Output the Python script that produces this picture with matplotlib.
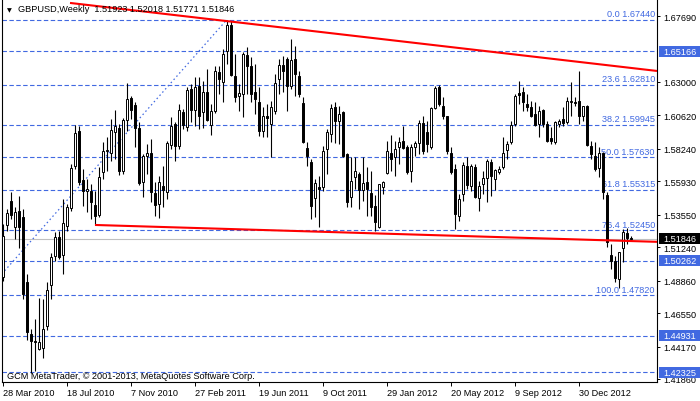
import matplotlib
matplotlib.use("Agg")
import matplotlib.pyplot as plt
import matplotlib.transforms as mtransforms
from matplotlib.patches import Rectangle
import numpy as np

plt.rcParams['font.family'] = ['Liberation Sans', 'DejaVu Sans']

# ---------------- data ----------------
chart_title = "GBPUSD,Weekly  1.51923 1.52018 1.51771 1.51846"
copyright_text = "GCM MetaTrader, \u00a9 2001-2013, MetaQuotes Software Corp."

opens = [1.4912, 1.5282, 1.5453, 1.5268, 1.5381, 1.5339, 1.4876, 1.4506, 1.4456, 1.4399,
         1.4407, 1.4563, 1.4855, 1.5061, 1.5196, 1.5068, 1.5275, 1.5403, 1.5702, 1.5951,
         1.5602, 1.5524, 1.5524, 1.5424, 1.5353, 1.5659, 1.5808, 1.5794, 1.5944, 1.5972,
         1.5666, 1.6029, 1.6186, 1.6136, 1.5972, 1.5588, 1.5773, 1.5794, 1.5510, 1.5431,
         1.5559, 1.5517, 1.5851, 1.6001, 1.5844, 1.6086, 1.5979, 1.6250, 1.6100, 1.6271,
         1.6086, 1.6228, 1.5993, 1.6093, 1.6371, 1.6299, 1.6520, 1.6705, 1.6342, 1.6200,
         1.6214, 1.6492, 1.6413, 1.6228, 1.6157, 1.5951, 1.6057, 1.6001, 1.6093, 1.6321,
         1.6420, 1.6463, 1.6271, 1.6463, 1.6342, 1.6150, 1.5830, 1.5730, 1.5474, 1.5552,
         1.5552, 1.5823, 1.5929, 1.6121, 1.6022, 1.6086, 1.5787, 1.5481, 1.5623, 1.5645,
         1.5531, 1.5588, 1.5510, 1.5417, 1.5268, 1.5552, 1.5652, 1.5794, 1.5766, 1.5837,
         1.5880, 1.5837, 1.5666, 1.5837, 1.5865, 1.6008, 1.5944, 1.5837, 1.6114, 1.6264,
         1.6129, 1.6057, 1.5794, 1.5680, 1.5346, 1.5502, 1.5702, 1.5559, 1.5695, 1.5474,
         1.5574, 1.5616, 1.5730, 1.5609, 1.5659, 1.5695, 1.5815, 1.5872, 1.6001, 1.6221,
         1.6228, 1.6143, 1.6121, 1.6072, 1.6001, 1.6100, 1.6001, 1.5901, 1.5872, 1.6001,
         1.6036, 1.6015, 1.6157, 1.6157, 1.6164, 1.6057, 1.6129, 1.5844, 1.5773, 1.5687,
         1.5794, 1.5495, 1.5068, 1.5026, 1.4898, 1.5118, 1.5225, 1.51923]
highs = [1.5289, 1.5396, 1.5517, 1.5410, 1.5488, 1.5396, 1.4933, 1.4542, 1.4613, 1.4762,
         1.4755, 1.4876, 1.5083, 1.5232, 1.5239, 1.5467, 1.5431, 1.5716, 1.5993, 1.5986,
         1.5680, 1.5609, 1.5574, 1.5524, 1.5695, 1.5872, 1.5908, 1.6036, 1.6100, 1.6001,
         1.6043, 1.6292, 1.6200, 1.6157, 1.6015, 1.5787, 1.5858, 1.5894, 1.5588, 1.5630,
         1.5702, 1.5880, 1.6050, 1.6015, 1.6143, 1.6107, 1.6264, 1.6285, 1.6335, 1.6335,
         1.6306, 1.6392, 1.6143, 1.6413, 1.6413, 1.6534, 1.6744, 1.6730, 1.6499, 1.6285,
         1.6513, 1.6548, 1.6477, 1.6427, 1.6264, 1.6121, 1.6143, 1.6164, 1.6356, 1.6463,
         1.6484, 1.6477, 1.6605, 1.6556, 1.6378, 1.6193, 1.5872, 1.5751, 1.5609, 1.5630,
         1.5844, 1.5965, 1.6143, 1.6157, 1.6129, 1.6093, 1.5794, 1.5766, 1.5766, 1.5659,
         1.5766, 1.5695, 1.5666, 1.5495, 1.5574, 1.5595, 1.5880, 1.5922, 1.5880, 1.5908,
         1.5986, 1.5851, 1.5858, 1.5880, 1.6029, 1.6057, 1.6022, 1.6121, 1.6271, 1.6278,
         1.6193, 1.6060, 1.5837, 1.5716, 1.5502, 1.5730, 1.5766, 1.5716, 1.5716, 1.5595,
         1.5666, 1.5751, 1.5751, 1.5680, 1.5702, 1.5908, 1.5880, 1.6022, 1.6214, 1.6306,
         1.6264, 1.6214, 1.6164, 1.6157, 1.6129, 1.6107, 1.6022, 1.5979, 1.6022, 1.6036,
         1.6121, 1.6193, 1.6299, 1.6193, 1.6378, 1.6129, 1.6136, 1.5880, 1.5872, 1.5837,
         1.5801, 1.5517, 1.5147, 1.5060, 1.5090, 1.5253, 1.5260, 1.52018]
lows = [1.4883, 1.5240, 1.5325, 1.5182, 1.5118, 1.4755, 1.4463, 1.4230, 1.4245, 1.4392,
        1.4335, 1.4535, 1.4755, 1.5026, 1.5040, 1.4933, 1.5239, 1.5381, 1.5680, 1.5566,
        1.5417, 1.5374, 1.5325, 1.5282, 1.5339, 1.5609, 1.5666, 1.5737, 1.5751, 1.5638,
        1.5645, 1.5951, 1.6036, 1.5837, 1.5566, 1.5481, 1.5645, 1.5445, 1.5346, 1.5332,
        1.5410, 1.5467, 1.5823, 1.5737, 1.5823, 1.5965, 1.5951, 1.6015, 1.5986, 1.5965,
        1.5972, 1.6022, 1.5922, 1.6079, 1.6214, 1.6157, 1.6427, 1.6342, 1.6157, 1.6093,
        1.6050, 1.6214, 1.6157, 1.6072, 1.5915, 1.5908, 1.5908, 1.5766, 1.6072, 1.6214,
        1.6228, 1.6093, 1.6250, 1.6200, 1.6193, 1.5865, 1.5702, 1.5325, 1.5339, 1.5268,
        1.5524, 1.5645, 1.5872, 1.5865, 1.5858, 1.5766, 1.5410, 1.5410, 1.5538, 1.5396,
        1.5453, 1.5346, 1.5346, 1.5239, 1.5260, 1.5502, 1.5645, 1.5666, 1.5630, 1.5716,
        1.5823, 1.5645, 1.5588, 1.5773, 1.5787, 1.5787, 1.5801, 1.5823, 1.6107, 1.6129,
        1.6036, 1.5787, 1.5645, 1.5253, 1.5310, 1.5453, 1.5538, 1.5524, 1.5474, 1.5381,
        1.5502, 1.5445, 1.5488, 1.5531, 1.5645, 1.5680, 1.5751, 1.5858, 1.5986, 1.6143,
        1.6093, 1.6093, 1.6050, 1.5986, 1.5908, 1.5979, 1.5872, 1.5858, 1.5858, 1.5979,
        1.5986, 1.6001, 1.6057, 1.6129, 1.6001, 1.6022, 1.5844, 1.5751, 1.5666, 1.5623,
        1.5467, 1.5125, 1.4969, 1.4876, 1.4831, 1.5019, 1.5147, 1.51771]
closes = [1.5204, 1.5367, 1.5353, 1.5374, 1.5268, 1.4791, 1.4520, 1.4456, 1.4449, 1.4449,
          1.4542, 1.4819, 1.5054, 1.5196, 1.5054, 1.5296, 1.5410, 1.5687, 1.5937, 1.5588,
          1.5524, 1.5535, 1.5445, 1.5346, 1.5623, 1.5808, 1.5815, 1.5958, 1.5986, 1.5666,
          1.6029, 1.6178, 1.6100, 1.5972, 1.5581, 1.5773, 1.5794, 1.5517, 1.5424, 1.5588,
          1.5531, 1.5865, 1.5986, 1.5844, 1.6100, 1.5993, 1.6242, 1.6100, 1.6264, 1.6057,
          1.6228, 1.6029, 1.6093, 1.6378, 1.6321, 1.6499, 1.6705, 1.6349, 1.6193, 1.6221,
          1.6499, 1.6413, 1.6214, 1.6178, 1.5951, 1.6057, 1.6043, 1.6121, 1.6292, 1.6420,
          1.6378, 1.6271, 1.6456, 1.6356, 1.6214, 1.5872, 1.5773, 1.5417, 1.5581, 1.5538,
          1.5808, 1.5944, 1.6114, 1.6022, 1.6072, 1.5773, 1.5445, 1.5595, 1.5666, 1.5531,
          1.5581, 1.5538, 1.5410, 1.5303, 1.5574, 1.5588, 1.5808, 1.5751, 1.5823, 1.5872,
          1.5830, 1.5659, 1.5837, 1.5865, 1.6008, 1.5808, 1.5858, 1.6114, 1.6257, 1.6143,
          1.6057, 1.5808, 1.5659, 1.5360, 1.5467, 1.5709, 1.5566, 1.5702, 1.5481, 1.5559,
          1.5616, 1.5737, 1.5630, 1.5673, 1.5680, 1.5794, 1.5858, 1.5993, 1.6200, 1.6207,
          1.6157, 1.6121, 1.6057, 1.5993, 1.6093, 1.6001, 1.5880, 1.5880, 1.6015, 1.6022,
          1.6008, 1.6164, 1.6164, 1.6150, 1.6057, 1.6129, 1.5851, 1.5787, 1.5680, 1.5794,
          1.5517, 1.5162, 1.5026, 1.4905, 1.5090, 1.5232, 1.5190, 1.51846]

date_tick_bars = [0, 16, 32, 48, 64, 80, 96, 112, 128, 144]
date_tick_labels = ["28 Mar 2010", "18 Jul 2010", "7 Nov 2010", "27 Feb 2011", "19 Jun 2011",
                    "9 Oct 2011", "29 Jan 2012", "20 May 2012", "9 Sep 2012", "30 Dec 2012"]

price_ticks = [1.67690, 1.63000, 1.60620, 1.58240, 1.55930, 1.53550, 1.51240,
               1.48860, 1.46550, 1.44170, 1.41860]

fib_anchor_bars = [-5, 56]
fib_anchor_prices = [1.47820, 1.67440]
fib_levels = [0.0, 23.6, 38.2, 50.0, 61.8, 76.4, 100.0]
fib_prices = [1.67440, 1.62810, 1.59945, 1.57630, 1.55315, 1.52450, 1.47820]

hline_prices = [1.65166, 1.50262, 1.44931, 1.42325]
bid_price = 1.51846

upper_trend_bars = [16.75, 163.5]
upper_trend_prices = [1.6862, 1.6378]
lower_trend_bars = [23.0, 163.5]
lower_trend_prices = [1.5282, 1.5162]

# ---------------- style ----------------
BLUE = "#4169E1"
FS = 6.6
W, H = 700, 402
px_left, px_right, px_top, px_bottom = 2, 657, 1, 383
price_per_px = 0.0007116

fig = plt.figure(figsize=(W / 100, H / 100), dpi=100)
fig.patch.set_facecolor("white")
ax = fig.add_axes([px_left / W, 1 - px_bottom / H, (px_right - px_left) / W, (px_bottom - px_top) / H])
ax.set_facecolor("white")

x = np.arange(len(opens))
o = np.array(opens); hi = np.array(highs); lo = np.array(lows); c = np.array(closes)

ax.set_xlim(-0.25, 163.5)
ax.set_ylim(1.6890 - price_per_px * px_bottom, 1.6890 - price_per_px * px_top)

# dashed levels
for p in fib_prices:
    ax.axhline(p, color=BLUE, lw=0.8, ls=(0, (4, 2.2)), zorder=1)
for p in hline_prices:
    ax.axhline(p, color=BLUE, lw=0.8, ls=(0, (4, 2.2)), zorder=1)
ax.axhline(bid_price, color="#c0c0c0", lw=0.8, zorder=1)

# fib diagonal
ax.plot(fib_anchor_bars, fib_anchor_prices, color=BLUE, lw=0.9, ls=(0, (1.2, 2.2)), zorder=1)

blend = mtransforms.blended_transform_factory(ax.transAxes, ax.transData)
for lvl, p in zip(fib_levels, fib_prices):
    ax.annotate(f"{lvl:.1f} {p:.5f}", xy=(1.0, p), xycoords=blend, xytext=(-1.5, 1.2),
                textcoords="offset points", ha="right", va="bottom", color=BLUE,
                fontsize=FS, zorder=2)

# candles
ax.vlines(x, lo, hi, color="black", lw=0.8, zorder=3)
up = c >= o
body_bottom = np.minimum(o, c)
body_height = np.abs(c - o)
ax.bar(x[up], body_height[up], bottom=body_bottom[up], width=0.55, color="white",
       edgecolor="black", linewidth=0.7, zorder=4)
ax.bar(x[~up], body_height[~up], bottom=body_bottom[~up], width=0.55, color="black",
       edgecolor="black", linewidth=0.7, zorder=4)

# trend lines
ax.plot(upper_trend_bars, upper_trend_prices, color="#ff0000", lw=1.5, zorder=5, solid_capstyle="butt")
ax.plot(lower_trend_bars, lower_trend_prices, color="#ff0000", lw=1.5, zorder=5, solid_capstyle="butt")

# axes
for s in ["left", "bottom", "right"]:
    ax.spines[s].set_color("black")
    ax.spines[s].set_linewidth(0.8)
ax.spines["top"].set_visible(False)

ax.yaxis.tick_right()
ax.set_yticks(price_ticks)
ax.set_yticklabels([f"{p:.5f}" for p in price_ticks])
ax.tick_params(axis="y", direction="out", length=2.2, width=0.7, pad=2.2, labelsize=FS, colors="black")
ax.set_xticks(date_tick_bars)
ax.set_xticklabels(date_tick_labels)
ax.tick_params(axis="x", direction="out", length=3, width=0.7, pad=1.2, labelsize=FS, colors="black")
for t in ax.get_xticklabels():
    t.set_horizontalalignment("left")

# highlighted price boxes on the right scale
box_h = 11 * price_per_px
ax_w_px = px_right - px_left
for p, col in [(hl, BLUE) for hl in hline_prices] + [(bid_price, "black")]:
    ax.add_patch(Rectangle((1 + 2 / ax_w_px, p - box_h / 2), 41 / ax_w_px, box_h, transform=blend,
                           facecolor=col, edgecolor="none", clip_on=False, zorder=10))
    ax.text(1 + 6 / ax_w_px, p, f"{p:.5f}", transform=blend, ha="left", va="center",
            color="white", fontsize=FS, clip_on=False, zorder=11)

# header and copyright
fig.text(7 / W, 1 - 10.5 / H, "\u25bc", family="DejaVu Sans", fontsize=4.5, ha="left", va="center")
fig.text(18 / W, 1 - 10 / H, chart_title, fontsize=FS, ha="left", va="center", zorder=20)
fig.text(7 / W, 1 - 377 / H, copyright_text, fontsize=FS, ha="left", va="center", zorder=20)

fig.savefig("out.png", dpi=100, facecolor="white")
